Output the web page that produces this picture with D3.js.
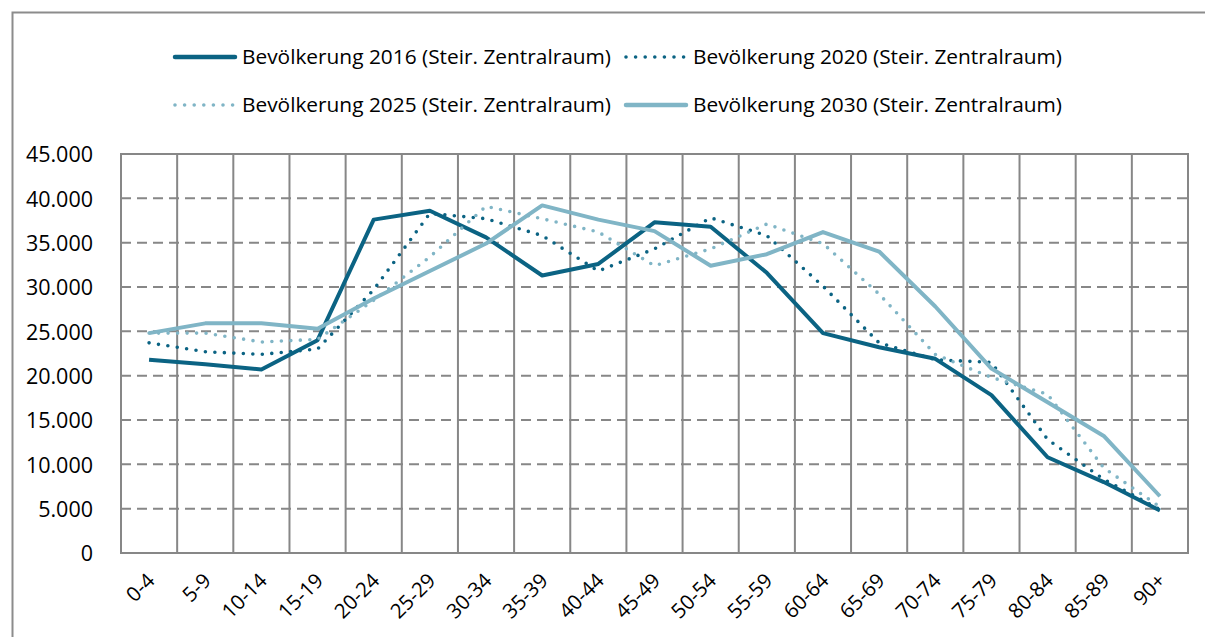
<!DOCTYPE html>
<html><head><meta charset="utf-8">
<script src="https://cdn.jsdelivr.net/npm/d3@7"></script>
<style>
html,body{margin:0;padding:0;background:#fff;}
svg{display:block;}
text{font-family:"Open Sans",sans-serif;fill:#000;}
</style></head>
<body>
<svg id="chart" width="1205" height="637"></svg>
<script>
const ages = ["0-4","5-9","10-14","15-19","20-24","25-29","30-34","35-39","40-44","45-49","50-54","55-59","60-64","65-69","70-74","75-79","80-84","85-89","90+"];
const pop2016 = [21800,21300,20700,24000,37600,38600,35600,31300,32600,37300,36800,31600,24800,23200,21900,17800,10800,8000,4800];
const pop2020 = [23700,22700,22400,23000,29700,38300,37700,35800,31800,34300,37800,35800,30100,23700,21800,21500,12800,8300,4900];
const pop2025 = [24800,24800,23800,24100,28500,33400,39100,37700,36200,32400,34300,37100,34900,29200,22400,19800,17900,9600,5200];
const pop2030 = [24800,25900,25900,25300,28700,31800,34900,39200,37600,36300,32400,33700,36200,34000,27800,20800,17000,13200,6400];
const yTicks = [0,5000,10000,15000,20000,25000,30000,35000,40000,45000];
const seriesNames = ["Bevölkerung 2016 (Steir. Zentralraum)","Bevölkerung 2020 (Steir. Zentralraum)","Bevölkerung 2025 (Steir. Zentralraum)","Bevölkerung 2030 (Steir. Zentralraum)"];

const DARK = "#0b6383", LIGHT = "#80b5c6", GRID = "#878787";
const FONT = '"Open Sans",sans-serif';
const series = [
  {name:seriesNames[0], values:pop2016, color:DARK, dotted:false},
  {name:seriesNames[1], values:pop2020, color:DARK, dotted:true},
  {name:seriesNames[2], values:pop2025, color:LIGHT, dotted:true},
  {name:seriesNames[3], values:pop2030, color:LIGHT, dotted:false}
];

const svg = d3.select("#chart");
const L = 121, R = 1188, T = 154, B = 553;

svg.append("path").attr("d","M12.5,637 L12.5,12.5 L1205,12.5").attr("fill","none").attr("stroke","#8c8c8c").attr("stroke-width",2);

const x = d3.scaleBand().domain(ages).range([L,R]).padding(0);
const y = d3.scaleLinear().domain([0,45000]).range([B,T]);

const g = svg.append("g");
g.selectAll("line.h").data(yTicks.filter(v=>v>0 && v<45000)).enter().append("line")
  .attr("x1",L).attr("x2",R).attr("y1",d=>y(d)).attr("y2",d=>y(d))
  .attr("stroke",GRID).attr("stroke-width",2).attr("stroke-dasharray","10,6");
g.selectAll("line.v").data(ages.slice(1)).enter().append("line")
  .attr("x1",d=>x(d)).attr("x2",d=>x(d)).attr("y1",T).attr("y2",B)
  .attr("stroke",GRID).attr("stroke-width",2);
g.append("rect").attr("x",L).attr("y",T).attr("width",R-L).attr("height",B-T)
  .attr("fill","none").attr("stroke",GRID).attr("stroke-width",2);

const yAxis = d3.axisLeft(y).tickValues(yTicks).tickSize(0).tickPadding(0)
  .tickFormat(d=> d===0 ? "0" : d3.format(",")(d).replace(/,/g,"."));
const ya = svg.append("g").attr("transform","translate(93,0)").call(yAxis);
ya.select(".domain").remove();
ya.selectAll("text").attr("font-size",21.5).attr("font-family",FONT).attr("fill","#000").attr("dy","0.36em");

const xAxis = d3.axisBottom(x).tickSize(0).tickPadding(0);
const xa = svg.append("g").attr("transform",`translate(0,${B})`).call(xAxis);
xa.select(".domain").remove();
xa.selectAll(".tick text")
  .attr("font-size",20.5).attr("font-family",FONT).attr("fill","#000")
  .attr("text-anchor","end").attr("x",0).attr("y",0).attr("dy",0)
  .attr("transform","translate(7,29) rotate(-45)");

const line = d3.line().x((d,i)=>x(ages[i])+x.bandwidth()/2).y(d=>y(d));
series.forEach(s=>{
  const p = svg.append("path").datum(s.values).attr("d",line)
    .attr("fill","none").attr("stroke",s.color).attr("stroke-width", s.dotted?3.6:4)
    .attr("stroke-linejoin","round");
  if(s.dotted) p.attr("stroke-dasharray","0,9.5").attr("stroke-linecap","round");
});

const legPos = [[173,57],[624,57],[173,105],[624,105]];
series.forEach((s,i)=>{
  const [lx,ly] = legPos[i];
  const l = svg.append("line").attr("x1",lx+2).attr("x2",lx+62).attr("y1",ly).attr("y2",ly)
    .attr("stroke",s.color).attr("stroke-width",s.dotted?3.6:4.5).attr("stroke-linecap","round");
  if(s.dotted) l.attr("stroke-dasharray","0,9.6");
  svg.append("text").attr("x",lx+69).attr("y",ly).attr("dy","0.36em")
    .attr("font-size",20).attr("textLength",369).attr("lengthAdjust","spacingAndGlyphs").text(s.name);
});
</script>
</body></html>
